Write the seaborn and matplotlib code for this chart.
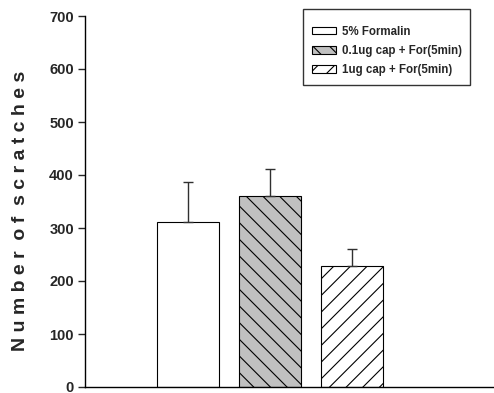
import matplotlib
matplotlib.use("Agg")
import matplotlib.pyplot as plt
import matplotlib.patches as mpatches
import seaborn as sns

# Group means and SEM of scratching counts
groups = ["5% Formalin", "0.1ug cap + For(5min)", "1ug cap + For(5min)"]
means = [312, 361, 228]
sems = [74, 51, 32]
yticks = [0, 100, 200, 300, 400, 500, 600, 700]

fill_colors = ["#ffffff", "#c0c0c0", "#ffffff"]
hatches = ["", "\\\\", "//"]

sns.set_style("white")
plt.rcParams["font.family"] = ["Liberation Sans", "DejaVu Sans"]
plt.rcParams["hatch.linewidth"] = 0.8

fig = plt.figure(figsize=(4.94, 3.93), dpi=100)
ax = fig.add_axes([85 / 494, 6 / 393, 408 / 494, 371 / 393])

sns.barplot(x=groups, y=means, hue=groups, palette=fill_colors, width=0.756,
            errorbar=None, edgecolor="black", linewidth=0.8, legend=False,
            saturation=1, ax=ax)

for patch, h in zip(ax.patches, hatches):
    patch.set_hatch(h)

# Upper-only error bars
ax.errorbar(range(len(groups)), means, yerr=[[0] * len(sems), sems],
            fmt="none", ecolor="#303030", elinewidth=1.0, capsize=3.5,
            capthick=1.0)

ax.set_xlim(-1.256, 3.72)
ax.set_ylim(0, 700)
ax.set_yticks(yticks)
ax.set_yticklabels([str(t) for t in yticks], fontsize=10.5, fontweight="bold")
ax.set_xticks([])
ax.tick_params(axis="y", direction="out", length=5, width=1, pad=3, left=True)
for side in ["top", "right"]:
    ax.spines[side].set_visible(False)
for side in ["left", "bottom"]:
    ax.spines[side].set_color("black")
    ax.spines[side].set_linewidth(1.0)

# Letter-spaced axis title
ylabel = "  ".join(" ".join(word) for word in "Number of scratches".split())
ax.set_ylabel(ylabel, fontsize=14, fontweight="bold")
ax.yaxis.set_label_coords(-0.138, 0.475)

handles = [mpatches.Patch(facecolor=c, edgecolor="black", hatch=h, linewidth=0.8)
           for c, h in zip(fill_colors, hatches)]
leg = fig.legend(handles, groups, loc="upper left",
                 bbox_to_anchor=(303 / 494, 384 / 393), borderaxespad=0,
                 frameon=True, fancybox=False, edgecolor="black",
                 prop={"weight": "bold", "size": 8.3}, handlelength=2.1,
                 handleheight=0.6, labelspacing=0.62, handletextpad=0.5,
                 borderpad=0.75, title=" ", title_fontsize=1)
leg.get_frame().set_linewidth(1.0)

fig.savefig("out.png", dpi=100)
